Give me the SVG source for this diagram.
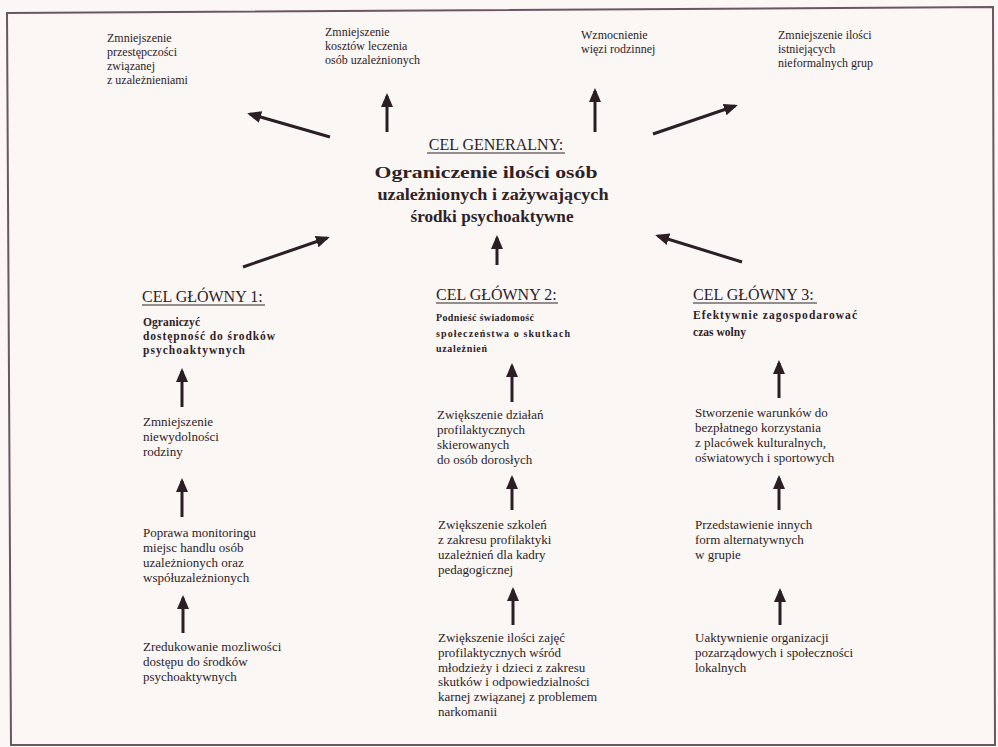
<svg xmlns="http://www.w3.org/2000/svg" width="998" height="747" viewBox="0 0 998 747">
<defs>
<style>
.t{font-family:"Liberation Serif","Times New Roman",serif;fill:#2e2226;font-size:13px}
.s{font-size:12px}
.h{font-size:16px}
.b{font-weight:bold;font-size:11.5px}
.b2{font-size:10px}
.g{font-weight:bold;font-size:17px}
.u{stroke:#2e2226;stroke-width:1}
.a{stroke:#2b1f25;stroke-width:3;fill:none;marker-end:url(#ah)}
</style>
<marker id="ah" viewBox="0 0 14 12" refX="11" refY="6" markerWidth="14" markerHeight="12" markerUnits="userSpaceOnUse" orient="auto">
<path d="M0,0 L14,6 L0,12 z" fill="#2b1f25"/>
</marker>
</defs>
<rect x="0" y="0" width="998" height="747" fill="#faf7f5"/>
<path d="M7,13 L993,7 L995,745 L11,745 Z" fill="none" stroke="#6b5663" stroke-width="2"/>

<g id="top1"><text class="t s" x="107" y="42">Zmniejszenie<tspan x="107" dy="14">przestępczości</tspan><tspan x="107" dy="14">związanej</tspan><tspan x="107" dy="14">z uzależnieniami</tspan></text></g>
<g id="top2"><text class="t s" x="325" y="36">Zmniejszenie<tspan x="325" dy="14">kosztów leczenia</tspan><tspan x="325" dy="14">osób uzależnionych</tspan></text></g>
<g id="top3"><text class="t s" x="581" y="39">Wzmocnienie<tspan x="581" dy="14">więzi rodzinnej</tspan></text></g>
<g id="top4"><text class="t s" x="778" y="39">Zmniejszenie ilości<tspan x="778" dy="14">istniejących</tspan><tspan x="778" dy="14">nieformalnych grup</tspan></text></g>

<g id="general">
<text class="t h" x="496" y="150" text-anchor="middle">CEL GENERALNY:</text>
<line class="u" x1="427" y1="153" x2="565" y2="153"/>
<text class="t g" x="486" y="178" text-anchor="middle" textLength="223" lengthAdjust="spacingAndGlyphs">Ograniczenie ilości  osób</text>
<text class="t g" x="493" y="200" text-anchor="middle" textLength="231" lengthAdjust="spacingAndGlyphs">uzależnionych i zażywających</text>
<text class="t g" x="492" y="222" text-anchor="middle" textLength="163" lengthAdjust="spacingAndGlyphs">środki psychoaktywne</text>
</g>

<g id="goal1">
<text class="t h" x="142" y="302">CEL GŁÓWNY 1:</text>
<line class="u" x1="142" y1="305" x2="265" y2="305"/>
<text class="t b" x="143" y="326" textLength="57" lengthAdjust="spacing">Ograniczyć</text>
<text class="t b" x="143" y="340" textLength="132" lengthAdjust="spacing">dostępność do środków</text>
<text class="t b" x="143" y="354" textLength="102" lengthAdjust="spacing">psychoaktywnych</text>
</g>
<g id="goal2">
<text class="t h" x="436" y="300">CEL GŁÓWNY 2:</text>
<line class="u" x1="436" y1="303" x2="558" y2="303"/>
<text class="t b b2" x="436" y="321" textLength="98" lengthAdjust="spacing">Podnieść świadomość</text>
<text class="t b b2" x="436" y="337" textLength="134" lengthAdjust="spacing">społeczeństwa o skutkach</text>
<text class="t b b2" x="436" y="352" textLength="51" lengthAdjust="spacing">uzależnień</text>
</g>
<g id="goal3">
<text class="t h" x="693" y="300">CEL GŁÓWNY 3:</text>
<line class="u" x1="693" y1="303" x2="817" y2="303"/>
<text class="t b" x="693" y="319" textLength="164" lengthAdjust="spacing">Efektywnie zagospodarować</text>
<text class="t b" x="693" y="336" textLength="53" lengthAdjust="spacing">czas wolny</text>
</g>

<g id="c1n1"><text class="t" x="143" y="426">Zmniejszenie<tspan x="143" dy="15">niewydolności</tspan><tspan x="143" dy="15">rodziny</tspan></text></g>
<g id="c1n2"><text class="t" x="143" y="537">Poprawa monitoringu<tspan x="143" dy="15">miejsc handlu osób</tspan><tspan x="143" dy="15">uzależnionych oraz</tspan><tspan x="143" dy="15">współuzależnionych</tspan></text></g>
<g id="c1n3"><text class="t" x="143" y="651">Zredukowanie mozliwości<tspan x="143" dy="15">dostępu do środków</tspan><tspan x="143" dy="15">psychoaktywnych</tspan></text></g>

<g id="c2n1"><text class="t" x="437" y="419">Zwiększenie działań<tspan x="437" dy="15">profilaktycznych</tspan><tspan x="437" dy="15">skierowanych</tspan><tspan x="437" dy="15">do osób dorosłych</tspan></text></g>
<g id="c2n2"><text class="t" x="438" y="529">Zwiększenie szkoleń<tspan x="438" dy="15">z zakresu profilaktyki</tspan><tspan x="438" dy="15">uzależnień dla kadry</tspan><tspan x="438" dy="15">pedagogicznej</tspan></text></g>
<g id="c2n3"><text class="t" x="438" y="642">Zwiększenie ilości zajęć<tspan x="438" dy="14.8">profilaktycznych wśród</tspan><tspan x="438" dy="14.8">młodzieży i dzieci z zakresu</tspan><tspan x="438" dy="14.8">skutków i odpowiedzialności</tspan><tspan x="438" dy="14.8">karnej związanej z problemem</tspan><tspan x="438" dy="14.8">narkomanii</tspan></text></g>

<g id="c3n1"><text class="t" x="695" y="417">Stworzenie warunków do<tspan x="695" dy="15">bezpłatnego korzystania</tspan><tspan x="695" dy="15">z placówek kulturalnych,</tspan><tspan x="695" dy="15">oświatowych i sportowych</tspan></text></g>
<g id="c3n2"><text class="t" x="695" y="529">Przedstawienie innych<tspan x="695" dy="15">form alternatywnych</tspan><tspan x="695" dy="15">w grupie</tspan></text></g>
<g id="c3n3"><text class="t" x="695" y="642">Uaktywnienie organizacji<tspan x="695" dy="15">pozarządowych i społeczności</tspan><tspan x="695" dy="15">lokalnych</tspan></text></g>

<g id="connectors">
<line class="a" x1="330" y1="137" x2="250" y2="114"/>
<line class="a" x1="387" y1="132" x2="387" y2="96"/>
<line class="a" x1="595" y1="132" x2="595" y2="91"/>
<line class="a" x1="653" y1="134" x2="735" y2="106"/>
<line class="a" x1="243" y1="267" x2="327" y2="238"/>
<line class="a" x1="497" y1="265" x2="497" y2="238"/>
<line class="a" x1="742" y1="262" x2="658" y2="236"/>
<line class="a" x1="182" y1="407" x2="182" y2="371"/>
<line class="a" x1="182" y1="517" x2="182" y2="481"/>
<line class="a" x1="183" y1="633" x2="183" y2="598"/>
<line class="a" x1="512" y1="402" x2="512" y2="366"/>
<line class="a" x1="512" y1="510" x2="512" y2="478"/>
<line class="a" x1="513" y1="625" x2="513" y2="590"/>
<line class="a" x1="779" y1="398" x2="779" y2="363"/>
<line class="a" x1="779" y1="510" x2="779" y2="478"/>
<line class="a" x1="780" y1="625" x2="780" y2="591"/>
</g>
</svg>
